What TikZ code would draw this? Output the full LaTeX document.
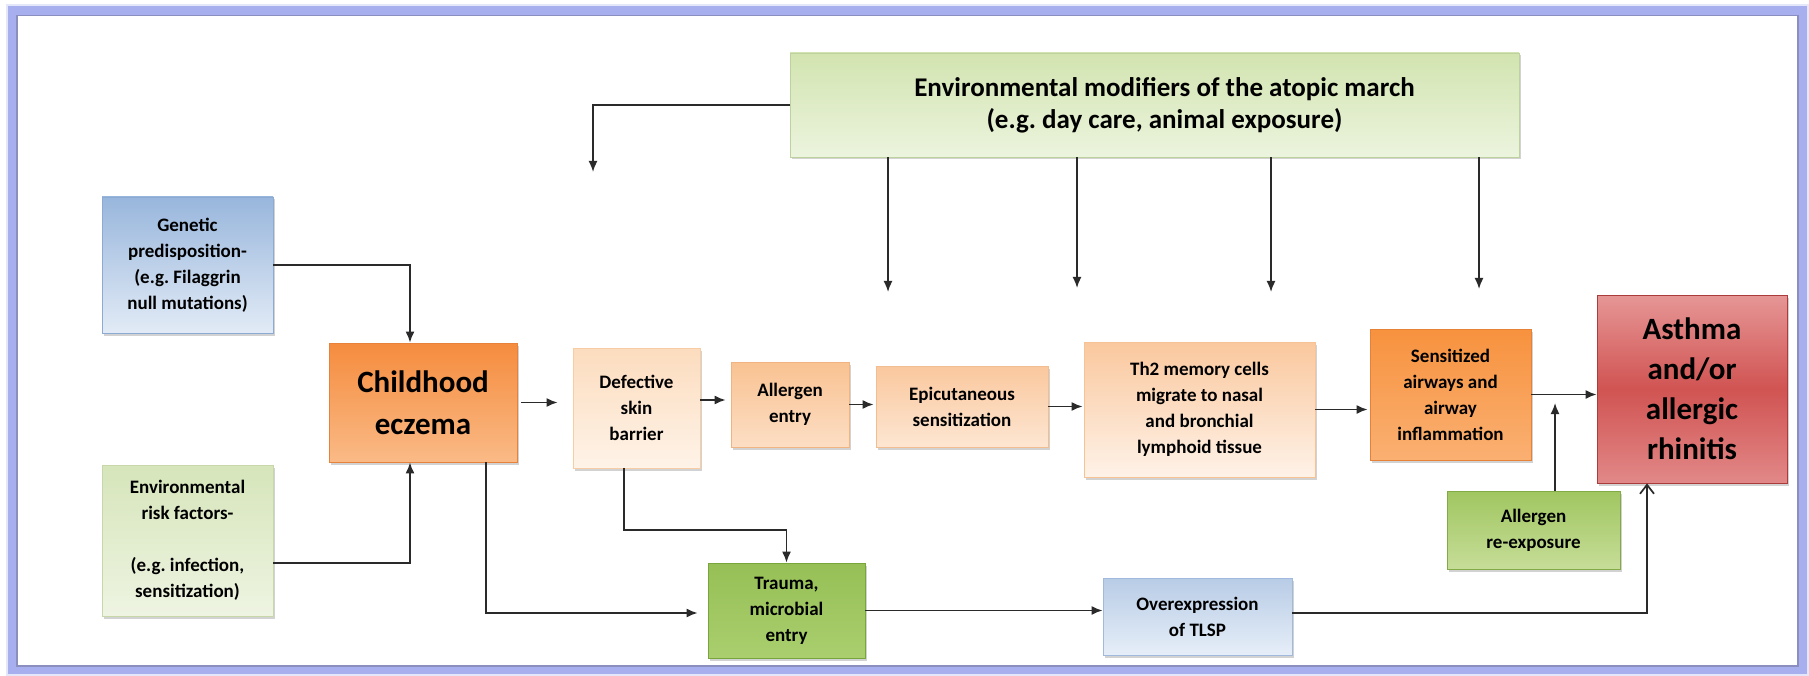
\documentclass[tikz,border=0pt]{standalone}
\usepackage{fontspec}
\setmainfont{Carlito}
\frenchspacing
\usetikzlibrary{arrows.meta,shadows}
\definecolor{framea}{HTML}{A7AFEF}
\definecolor{frameb}{HTML}{8A8FC0}
\definecolor{linec}{HTML}{2A2A2A}
% box colours: border (d), top (t), middle (m), bottom (b)
\definecolor{envmodd}{RGB}{190,210,160}\definecolor{envmodt}{RGB}{210,228,176}\definecolor{envmodb}{RGB}{236,244,222}
\definecolor{gend}{RGB}{140,170,210}\definecolor{gent}{RGB}{152,182,220}\definecolor{genb}{RGB}{226,235,246}
\definecolor{riskd}{RGB}{200,215,170}\definecolor{riskt}{RGB}{214,229,186}\definecolor{riskb}{RGB}{238,244,226}
\definecolor{chd}{RGB}{230,130,60}\definecolor{cht}{RGB}{245,140,62}\definecolor{chb}{RGB}{250,186,134}
\definecolor{defd}{RGB}{248,205,165}\definecolor{deft}{RGB}{252,220,190}\definecolor{defb}{RGB}{254,243,232}
\definecolor{alld}{RGB}{240,180,130}\definecolor{allt}{RGB}{249,194,146}\definecolor{allb}{RGB}{252,222,196}
\definecolor{epid}{RGB}{242,190,145}\definecolor{epit}{RGB}{250,200,158}\definecolor{epib}{RGB}{253,230,210}
\definecolor{thd}{RGB}{245,195,150}\definecolor{tht}{RGB}{250,200,158}\definecolor{thb}{RGB}{254,242,232}
\definecolor{sensd}{RGB}{230,130,55}\definecolor{senst}{RGB}{247,146,62}\definecolor{sensb}{RGB}{250,176,114}
\definecolor{asd}{RGB}{170,60,60}\definecolor{ast}{RGB}{230,150,150}\definecolor{asm}{RGB}{208,84,82}\definecolor{asb}{RGB}{226,136,136}
\definecolor{reexpd}{RGB}{130,170,70}\definecolor{reexpt}{RGB}{160,198,96}\definecolor{reexpb}{RGB}{198,221,152}
\definecolor{trd}{RGB}{120,165,60}\definecolor{trt}{RGB}{150,192,86}\definecolor{trb}{RGB}{170,206,110}
\definecolor{tld}{RGB}{160,185,220}\definecolor{tlt}{RGB}{184,204,230}\definecolor{tlb}{RGB}{230,238,248}
\begin{document}
\begin{tikzpicture}[x=1pt,y=-1pt,
  box/.style={draw=#1d, top color=#1t, bottom color=#1b, line width=0.8pt, inner sep=0pt, align=center,
    font=\bfseries\fontsize{19}{26}\selectfont,
    drop shadow={shadow xshift=1.5pt, shadow yshift=-2.5pt, opacity=0.35}},
  arr/.style={draw=linec, line width=1.7pt, -{Latex[length=11pt,width=9pt]}},
  openarr/.style={draw=linec, line width=1.7pt, -{Straight Barb[length=9pt,width=14pt,line width=1.7pt]}},
]
\useasboundingbox (0,0) rectangle (1809,676);
% frame
\fill[white] (0,0) rectangle (1809,676);
\draw[framea, line width=11pt] (11,9.5) rectangle (1803.5,671);
\draw[frameb, line width=1.5pt] (17,15.5) rectangle (1798,666);
\draw[white!70!framea, line width=2pt] (7,5) rectangle (1808,675);

% nodes
\node[box=envmod, minimum width=729pt, minimum height=104pt, font=\bfseries\fontsize{27}{32}\selectfont]
  (envmod) at (1154.5,105) {\hspace*{20pt}Environmental modifiers of the atopic march\\\hspace*{20pt}(e.g. day care, animal exposure)};

\node[box=gen, minimum width=171pt, minimum height=136pt]
  (genetic) at (187.5,265) {Genetic\\predisposition-\\(e.g. Filaggrin\\null mutations)};

\node[box=risk, minimum width=171pt, minimum height=151pt]
  (envrisk) at (187.5,540.5) {Environmental\\risk factors-\\[26pt](e.g. infection,\\sensitization)};

\node[box=ch, minimum width=188pt, minimum height=119pt, font=\bfseries\fontsize{31}{42}\selectfont]
  (childhood) at (423,402.5) {Childhood\\eczema};

\node[box=def, minimum width=127pt, minimum height=120pt]
  (defective) at (636.5,408) {Defective\\skin\\barrier};

\node[box=all, minimum width=118pt, minimum height=85pt]
  (allergen) at (790,404.5) {Allergen\\entry};

\node[box=epi, minimum width=172pt, minimum height=81pt]
  (epi) at (962,406.5) {Epicutaneous\\sensitization};

\node[box=th, minimum width=231pt, minimum height=135pt]
  (th2) at (1199.5,409.5) {Th2 memory cells\\migrate to nasal\\and bronchial\\lymphoid tissue};

\node[box=sens, minimum width=161pt, minimum height=131pt]
  (sens) at (1450.5,394.5) {Sensitized\\airways and\\airway\\inflammation};

\node[box=as, middle color=asm, minimum width=190pt, minimum height=188pt, font=\bfseries\fontsize{31}{40}\selectfont]
  (asthma) at (1692,389) {Asthma\\and/or\\allergic\\rhinitis};

\node[box=reexp, minimum width=173pt, minimum height=78pt]
  (reexp) at (1533.5,530) {Allergen\\re-exposure};

\node[box=tr, minimum width=157pt, minimum height=95pt]
  (trauma) at (786.5,610.5) {Trauma,\\microbial\\entry};

\node[box=tl, minimum width=189pt, minimum height=77pt]
  (tlsp) at (1197.5,616.5) {Overexpression\\of TLSP};

% free ends
\coordinate (e0) at (593,172);
\coordinate (e1) at (888,292);
\coordinate (e2) at (1077,288);
\coordinate (e3) at (1271,292);
\coordinate (e4) at (1479,289);
\coordinate (g1) at (410,0);
\coordinate (r1) at (410,563);
\coordinate (d1) at (700,400);
\coordinate (k1) at (486,613);
\coordinate (k2) at (624,530);
\coordinate (x1) at (1555,403);
\coordinate (k3) at (1647,613);

% connectors
\draw[arr] (envmod.west) -| (e0);
\draw[arr] (e1 |- envmod.south) -- (e1);
\draw[arr] (e2 |- envmod.south) -- (e2);
\draw[arr] (e3 |- envmod.south) -- (e3);
\draw[arr] (e4 |- envmod.south) -- (e4);
\draw[arr] (genetic.east) -| (g1 |- childhood.north);
\draw[arr] (r1 -| envrisk.east) -- (r1) -- (r1 |- childhood.south);
\draw[arr, shorten <=4pt, shorten >=15pt] (childhood.east) -- (childhood.east -| defective.west);
\draw[arr, shorten >=5pt] (d1 -| defective.east) -- (d1 -| allergen.west);
\draw[arr, shorten >=2pt] (allergen.east) -- (allergen.east -| epi.west);
\draw[arr, shorten >=1pt] (epi.east) -- (epi.east -| th2.west);
\draw[arr, shorten >=2pt] (th2.east) -- (th2.east -| sens.west);
\draw[arr] (sens.east) -- (sens.east -| asthma.west);
\draw[arr] (x1 |- reexp.north) -- (x1);
\draw[arr, shorten >=10pt] (k1 |- childhood.south) -- (k1) -- (k1 -| trauma.west);
\draw[arr] (k2 |- defective.south) -- (k2) -| (trauma.north);
\draw[arr] (trauma.east) -- (trauma.east -| tlsp.west);
\draw[openarr] (k3 -| tlsp.east) -- (k3) -- (k3 |- asthma.south);
\end{tikzpicture}
\end{document}
